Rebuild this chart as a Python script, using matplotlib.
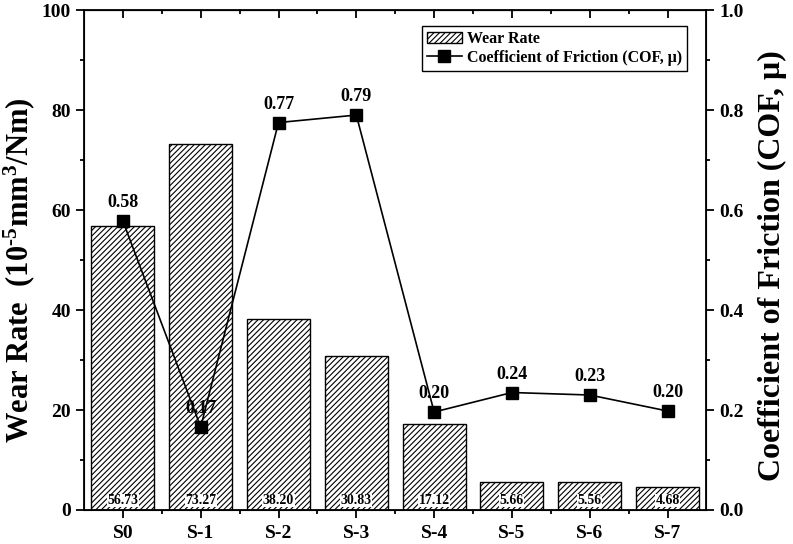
import numpy as np
import matplotlib
matplotlib.use("Agg")
import matplotlib.pyplot as plt
from matplotlib.patches import Patch
from matplotlib.lines import Line2D
from matplotlib.ticker import MultipleLocator, FixedLocator, FormatStrFormatter

plt.rcParams["font.family"] = ["Liberation Serif", "DejaVu Serif"]
plt.rcParams["font.weight"] = "bold"
plt.rcParams["mathtext.fontset"] = "custom"
plt.rcParams["mathtext.rm"] = "Liberation Serif:bold"
plt.rcParams["mathtext.bf"] = "Liberation Serif:bold"
plt.rcParams["mathtext.default"] = "bf"
plt.rcParams["hatch.linewidth"] = 0.8

samples = ["S0", "S-1", "S-2", "S-3", "S-4", "S-5", "S-6", "S-7"]
wear_rate = [56.73, 73.27, 38.20, 30.83, 17.12, 5.66, 5.56, 4.68]
cof = [0.58, 0.17, 0.77, 0.79, 0.20, 0.24, 0.23, 0.20]
cof_plotted = [0.578, 0.166, 0.775, 0.790, 0.196, 0.235, 0.230, 0.198]

fig = plt.figure(figsize=(7.93, 5.44), dpi=100)
ax = fig.add_axes([0.1059, 0.0625, 0.785, 0.919])
x = np.arange(len(samples))

ax.bar(x, wear_rate, width=0.81, color="white", edgecolor="black",
       hatch="//////", linewidth=1.0, zorder=2)
for xi, v in zip(x, wear_rate):
    ax.text(xi, 0.6, f"{v:.2f}", ha="center", va="bottom", fontsize=10,
            fontweight="bold", zorder=3,
            bbox=dict(facecolor="white", edgecolor="none", pad=0.3))

ax.set_xlim(-0.5, 7.5)
ax.set_ylim(0, 100)
ax.set_xticks(x)
ax.set_xticklabels(samples, fontsize=14, fontweight="bold")
ax.xaxis.set_minor_locator(FixedLocator(x[:-1] + 0.5))
ax.yaxis.set_major_locator(MultipleLocator(20))
ax.yaxis.set_minor_locator(MultipleLocator(10))
ax.tick_params(axis="both", which="major", direction="out", length=6, width=1.3,
               labelsize=14)
ax.tick_params(axis="x", which="major", pad=5)
ax.tick_params(axis="both", which="minor", direction="out", length=2.8, width=1.3)
for lab in ax.get_yticklabels():
    lab.set_fontweight("bold")
ax.set_ylabel(r"Wear Rate  (10$^{\text{-5}}$mm$^{3}$/Nm)", fontsize=22,
              fontweight="bold")
ax.yaxis.set_label_coords(-0.076, 0.48)
for s in ax.spines.values():
    s.set_linewidth(1.3)

top = ax.secondary_xaxis("top")
top.set_xticks(x)
top.set_xticklabels([])
top.xaxis.set_minor_locator(FixedLocator(x[:-1] + 0.5))
top.tick_params(which="major", direction="in", length=6, width=1.3)
top.tick_params(which="minor", direction="in", length=2.8, width=1.3)

ax2 = ax.twinx()
ax2.plot(x, cof_plotted, color="black", linewidth=1.2, marker="s",
         markersize=8, zorder=4)
for xi, yv, lab in zip(x, cof_plotted, cof):
    ax2.annotate(f"{lab:.2f}", (xi, yv), xytext=(0, 7), textcoords="offset points",
                 ha="center", va="bottom", fontsize=13, fontweight="bold")
ax2.set_ylim(0, 1.0)
ax2.yaxis.set_major_locator(MultipleLocator(0.2))
ax2.yaxis.set_minor_locator(MultipleLocator(0.1))
ax2.yaxis.set_major_formatter(FormatStrFormatter("%.1f"))
ax2.tick_params(axis="y", which="major", direction="out", length=6, width=1.3,
                labelsize=14)
ax2.tick_params(axis="y", which="minor", direction="out", length=2.8, width=1.3)
for lab in ax2.get_yticklabels():
    lab.set_fontweight("bold")
ax2.set_ylabel("Coefficient of Friction (COF, \u03bc)", fontsize=23,
               fontweight="bold")
ax2.yaxis.set_label_coords(1.082, 0.488)

handles = [
    Patch(facecolor="white", edgecolor="black", hatch="//////", linewidth=1.0),
    Line2D([0], [0], color="black", linewidth=1.2, marker="s", markersize=8),
]
leg = ax2.legend(handles, ["Wear Rate", "Coefficient of Friction (COF, \u03bc)"],
                 loc="upper right", bbox_to_anchor=(0.968, 0.968),
                 borderaxespad=0, fancybox=False, edgecolor="black",
                 framealpha=1, prop={"size": 11.5, "weight": "bold"},
                 handlelength=2.2, borderpad=0.3, labelspacing=0.2,
                 handletextpad=0.3)
leg.get_frame().set_linewidth(1.0)

fig.savefig("out.png", dpi=100)
